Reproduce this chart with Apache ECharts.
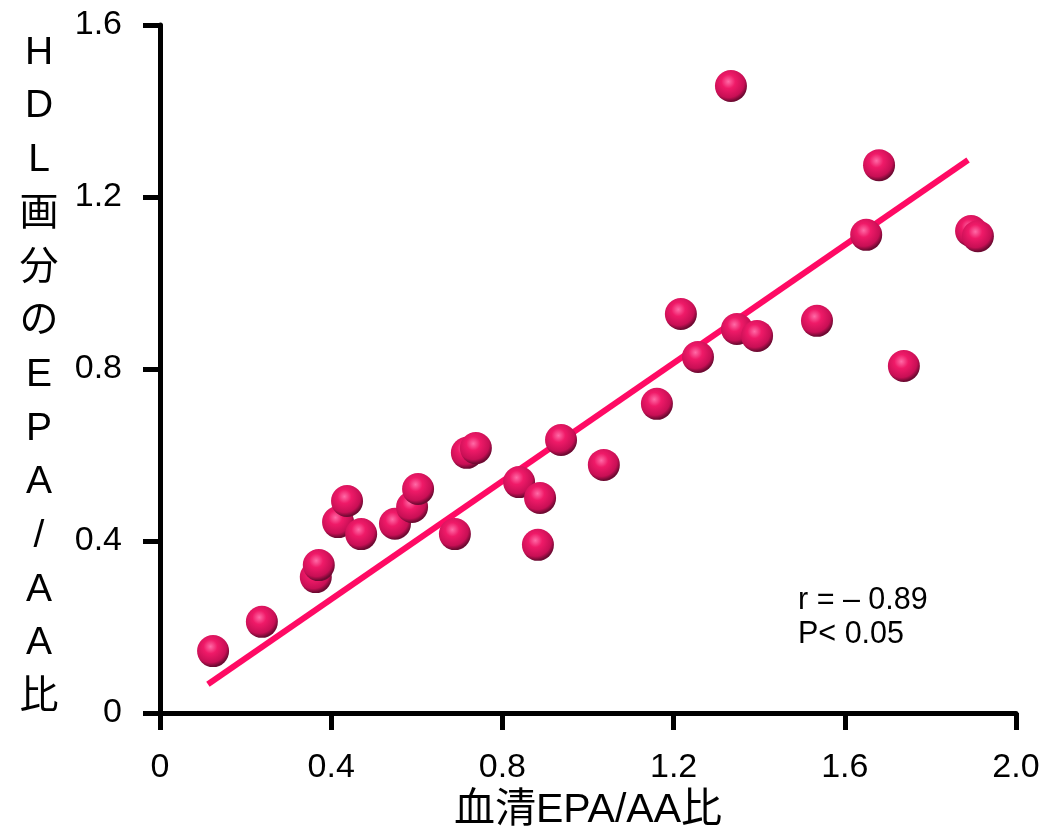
<!DOCTYPE html>
<html>
<head>
<meta charset="utf-8">
<script src="https://cdn.jsdelivr.net/npm/echarts@6/dist/echarts.min.js"></script>
<style>
  html, body { margin: 0; padding: 0; background: #fff; }
  #chart { width: 1048px; height: 828px; }
</style>
</head>
<body>
<div id="chart"></div>
<script>
// 血清EPA/AA比 vs HDL画分のEPA/AA比
const serumRatio = [0.124, 0.238, 0.364, 0.371, 0.416, 0.437, 0.470, 0.549, 0.589, 0.603,
    0.689, 0.717, 0.738, 0.839, 0.883, 0.888, 0.937, 1.037, 1.161, 1.217,
    1.257, 1.334, 1.348, 1.395, 1.535, 1.650, 1.680, 1.738, 1.895, 1.911]
const hdlRatio = [0.144, 0.212, 0.316, 0.344, 0.444, 0.493, 0.416, 0.440, 0.479, 0.521,
    0.416, 0.605, 0.616, 0.537, 0.391, 0.500, 0.635, 0.577, 0.719, 0.928,
    0.828, 1.458, 0.893, 0.877, 0.912, 1.112, 1.274, 0.807, 1.121, 1.109]
const fitX = [0.112, 1.888]
const fitY = [0.067, 1.286]
const xTicks = ['0', '0.4', '0.8', '1.2', '1.6', '2.0']
const yTicks = ['0', '0.4', '0.8', '1.2', '1.6']
const yTitle = 'HDL画分のEPA/AA比'
const xTitle = '血清EPA/AA比'
const statLines = ['r = – 0.89', 'P< 0.05']

const numFont = '"Liberation Sans", Arial, sans-serif'
const mixFont = '"Liberation Sans", "Noto Sans CJK JP", sans-serif'

const chart = echarts.init(document.getElementById('chart'))

const ball = {
    type: 'radial', x: 0.42, y: 0.36, r: 0.62,
    colorStops: [
        {offset: 0, color: '#ff6aa6'},
        {offset: 0.35, color: '#ef1a68'},
        {offset: 0.8, color: '#c80f55'},
        {offset: 1, color: '#6e0a32'},
    ],
}

const axisCommon = {
    type: 'value',
    min: 0,
    interval: 0.4,
    splitLine: {show: false},
    axisLine: {show: true, onZero: false, lineStyle: {color: '#000', width: 5}},
    axisTick: {show: true, length: 17, lineStyle: {color: '#000', width: 5}},
}

// 縦書きの軸タイトル: 一文字ずつ並べる
const yTitleChars = yTitle.split('').map((ch, i) => ({
    type: 'text',
    x: 39, y: 53 + i * 53.7,
    style: {
        text: ch,
        fontSize: 39,
        fontFamily: mixFont,
        fill: '#000',
        align: 'center',
        verticalAlign: 'middle',
    },
}))

const statTexts = statLines.map((line, i) => ({
    type: 'text',
    x: 798, y: 601 + i * 34,
    style: {
        text: line,
        fontSize: 30.5,
        fontFamily: numFont,
        fill: '#000',
        verticalAlign: 'middle',
    },
}))

chart.setOption({
    animation: false,
    grid: {left: 160, right: 32, top: 25, bottom: 115},
    xAxis: {
        ...axisCommon,
        max: 2.0,
        axisLabel: {
            margin: 38, fontSize: 34, color: '#000', fontFamily: numFont,
            formatter: (v) => xTicks[Math.round(v / 0.4)],
        },
    },
    yAxis: {
        ...axisCommon,
        max: 1.6,
        axisLabel: {
            margin: 38, fontSize: 34, color: '#000', fontFamily: numFont,
            formatter: (v) => yTicks[Math.round(v / 0.4)],
        },
    },
    series: [
        {
            type: 'line',
            data: fitX.map((x, i) => [x, fitY[i]]),
            symbol: 'none',
            lineStyle: {color: '#ff0a64', width: 6},
            z: 2,
        },
        {
            type: 'scatter',
            data: serumRatio.map((x, i) => [x, hdlRatio[i]]),
            symbol: 'circle',
            symbolSize: 32,
            itemStyle: {color: ball, opacity: 1},
            z: 3,
        },
    ],
    graphic: [
        ...yTitleChars,
        {
            type: 'text',
            x: 588, y: 811,
            style: {
                text: xTitle,
                fontSize: 41,
                fontFamily: mixFont,
                fill: '#000',
                align: 'center',
                verticalAlign: 'middle',
            },
        },
        ...statTexts,
    ],
})
</script>
</body>
</html>
